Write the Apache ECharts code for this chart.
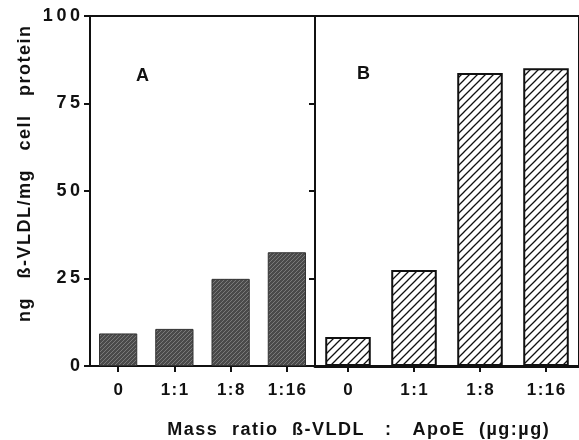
<!DOCTYPE html>
<html>
<head>
<meta charset="utf-8">
<script src="https://cdn.jsdelivr.net/npm/echarts@6/dist/echarts.min.js"></script>
<style>
  html, body { margin: 0; padding: 0; background: #fff; }
  #main { width: 579px; height: 440px; }
</style>
</head>
<body>
<div id="main"></div>
<script>
// data
const ratios = ['0', '1:1', '1:8', '1:16'];
const panelA = [9.3, 10.6, 24.9, 32.5];   // ng B-VLDL / mg cell protein
const panelB = [8.3, 27.4, 83.7, 85.1];
const yTicks = [0, 25, 50, 75, 100];

window.addEventListener('load', function () {
  var chart = echarts.init(document.getElementById('main'));

  // diagonal hatch tile "/"
  function hatch(bg, fg, size, lw) {
    var c = document.createElement('canvas');
    c.width = size; c.height = size;
    var ctx = c.getContext('2d');
    ctx.fillStyle = bg;
    ctx.fillRect(0, 0, size, size);
    ctx.strokeStyle = fg;
    ctx.lineWidth = lw;
    ctx.beginPath();
    ctx.moveTo(-1, size + 1); ctx.lineTo(size + 1, -1);
    ctx.moveTo(-1, 1); ctx.lineTo(1, -1);
    ctx.moveTo(size - 1, size + 1); ctx.lineTo(size + 1, size - 1);
    ctx.stroke();
    return { image: c, repeat: 'repeat' };
  }

  const font = "'Liberation Sans', Arial, sans-serif";
  const spaced = (s, sp) => String(s).split('').join(sp);
  // letter-spaced words, wide gaps between words
  const title = (words, gap) => words.map(w => spaced(w, '\u200A')).join(gap);

  function yAxis(idx, labels) {
    return {
      type: 'value', gridIndex: idx, min: 0, max: 100, interval: 25,
      axisLine: { show: true, lineStyle: { color: '#111', width: 2 } },
      axisTick: { show: true, inside: false, length: 6, lineStyle: { color: '#111', width: 2 } },
      axisLabel: {
        show: labels, margin: 10, color: '#111', fontFamily: font, fontWeight: 'bold', fontSize: 18,
        formatter: v => yTicks.indexOf(v) >= 0 ? spaced(v, '\u2009') : ''
      },
      splitLine: { show: false }
    };
  }
  function xAxis(idx, w) {
    return {
      type: 'category', gridIndex: idx, data: ratios,
      axisLine: { show: true, lineStyle: { color: '#111', width: w } },
      axisTick: { show: true, alignWithLabel: true, length: 6, lineStyle: { color: '#111', width: 2 } },
      axisLabel: {
        margin: 16, color: '#111', fontFamily: font, fontWeight: 'bold', fontSize: 17,
        formatter: v => spaced(v, '\u200A')
      }
    };
  }

  chart.setOption({
    animation: false,
    grid: [
      { left: 90, top: 16, width: 225, height: 350, show: true, borderColor: '#111', borderWidth: 2 },
      { left: 315, top: 16, width: 268, height: 350, show: true, borderColor: '#111', borderWidth: 2 }
    ],
    xAxis: [xAxis(0, 2), xAxis(1, 3)],
    yAxis: [yAxis(0, true), yAxis(1, false)],
    series: [
      {
        type: 'bar', xAxisIndex: 0, yAxisIndex: 0, data: panelA, barWidth: '68%',
        itemStyle: { color: hatch('#4a4a4a', '#7a7a7a', 4, 1), borderColor: '#333', borderWidth: 1 }
      },
      {
        type: 'bar', xAxisIndex: 1, yAxisIndex: 1, data: panelB, barWidth: '69%',
        itemStyle: { color: hatch('#ffffff', '#111', 8, 1.3), borderColor: '#111', borderWidth: 2 }
      }
    ],
    graphic: [
      { type: 'text', left: 136, top: 67, style: { text: 'A', font: 'bold 18px ' + font, fill: '#111' } },
      { type: 'text', left: 357, top: 65, style: { text: 'B', font: 'bold 18px ' + font, fill: '#111' } },
      {
        type: 'text', x: 25, y: 174, rotation: Math.PI / 2,
        style: { text: title(['ng', 'ß-VLDL/mg', 'cell', 'protein'], '    '), font: 'bold 18px ' + font, fill: '#111', align: 'center', verticalAlign: 'middle' }
      },
      {
        type: 'text', x: 358, y: 430,
        style: { text: title(['Mass', 'ratio', 'ß-VLDL', ' :', ' ApoE', '(µg:µg)'], '   '), font: 'bold 18px ' + font, fill: '#111', align: 'center', verticalAlign: 'middle' }
      }
    ]
  });
});
</script>
</body>
</html>
